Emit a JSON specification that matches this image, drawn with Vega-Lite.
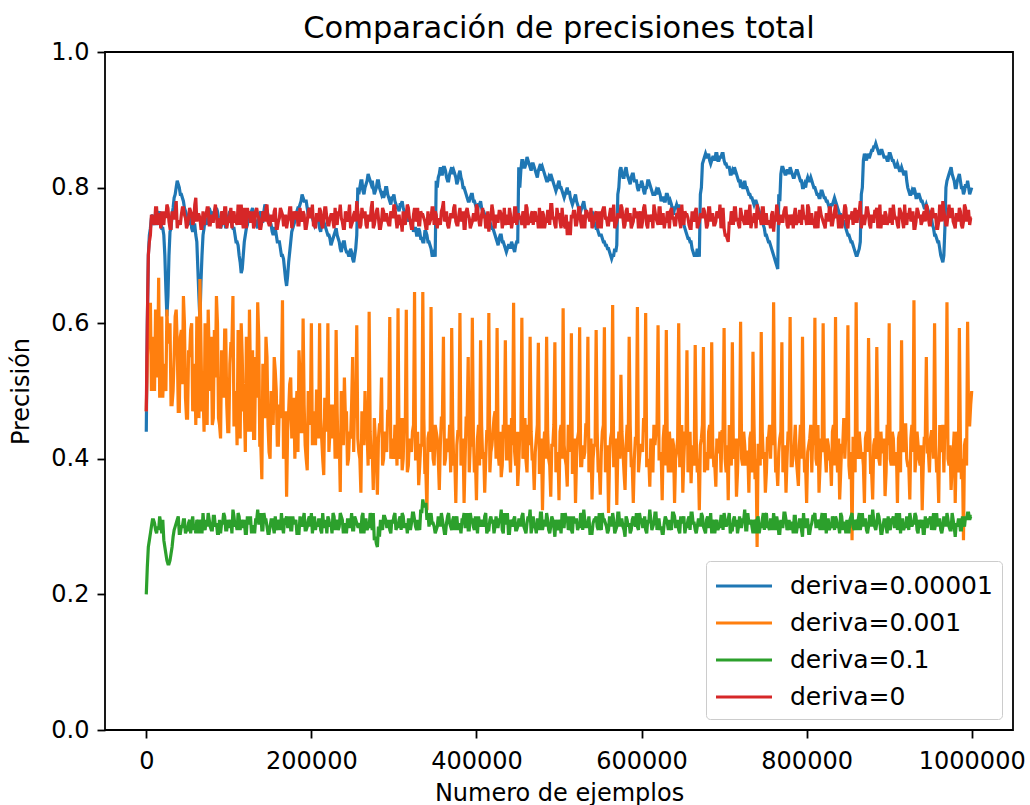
{
  "$schema": "https://vega.github.io/schema/vega-lite/v6.json",
  "width": 908,
  "height": 678,
  "autosize": {"type": "none"},
  "padding": {"left": 105, "top": 52, "right": 17, "bottom": 75},
  "background": "white",
  "config": {
    "font": "DejaVu Sans",
    "view": {"stroke": "black", "strokeWidth": 1.8}
  },
  "title": {
    "text": "Comparación de precisiones total",
    "font": "DejaVu Sans",
    "fontSize": 30.5,
    "fontWeight": "normal",
    "color": "black",
    "anchor": "middle",
    "offset": -4
  },
  "data": {
    "values": [
      {"x": 0, "a": 0.44, "b": 0.47, "c": 0.20, "d": 0.47},
      {"x": 5000, "a": 0.74, "b": 0.63, "c": 0.29, "d": 0.73},
      {"x": 10000, "a": 0.75, "b": 0.50, "c": 0.305, "d": 0.745},
      {"x": 15000, "a": 0.76, "b": 0.667, "c": 0.295, "d": 0.76},
      {"x": 20000, "a": 0.74, "b": 0.49, "c": 0.31, "d": 0.75},
      {"x": 25000, "a": 0.61, "b": 0.62, "c": 0.25, "d": 0.775},
      {"x": 30000, "a": 0.74, "b": 0.48, "c": 0.26, "d": 0.74},
      {"x": 35000, "a": 0.79, "b": 0.61, "c": 0.30, "d": 0.765},
      {"x": 40000, "a": 0.80, "b": 0.47, "c": 0.29, "d": 0.75},
      {"x": 45000, "a": 0.78, "b": 0.64, "c": 0.31, "d": 0.77},
      {"x": 50000, "a": 0.75, "b": 0.46, "c": 0.295, "d": 0.745},
      {"x": 55000, "a": 0.74, "b": 0.60, "c": 0.305, "d": 0.76},
      {"x": 60000, "a": 0.73, "b": 0.45, "c": 0.29, "d": 0.785},
      {"x": 65000, "a": 0.605, "b": 0.665, "c": 0.31, "d": 0.755},
      {"x": 70000, "a": 0.74, "b": 0.44, "c": 0.30, "d": 0.745},
      {"x": 75000, "a": 0.76, "b": 0.62, "c": 0.32, "d": 0.77},
      {"x": 80000, "a": 0.75, "b": 0.45, "c": 0.295, "d": 0.75},
      {"x": 85000, "a": 0.77, "b": 0.64, "c": 0.305, "d": 0.76},
      {"x": 90000, "a": 0.74, "b": 0.43, "c": 0.29, "d": 0.74},
      {"x": 95000, "a": 0.75, "b": 0.59, "c": 0.315, "d": 0.77},
      {"x": 100000, "a": 0.76, "b": 0.44, "c": 0.30, "d": 0.75},
      {"x": 105000, "a": 0.74, "b": 0.64, "c": 0.325, "d": 0.76},
      {"x": 110000, "a": 0.72, "b": 0.42, "c": 0.295, "d": 0.745},
      {"x": 115000, "a": 0.674, "b": 0.60, "c": 0.31, "d": 0.775},
      {"x": 120000, "a": 0.73, "b": 0.41, "c": 0.29, "d": 0.75},
      {"x": 125000, "a": 0.75, "b": 0.62, "c": 0.305, "d": 0.765},
      {"x": 130000, "a": 0.76, "b": 0.43, "c": 0.30, "d": 0.74},
      {"x": 135000, "a": 0.74, "b": 0.631, "c": 0.325, "d": 0.76},
      {"x": 140000, "a": 0.75, "b": 0.37, "c": 0.295, "d": 0.75},
      {"x": 145000, "a": 0.77, "b": 0.58, "c": 0.31, "d": 0.77},
      {"x": 150000, "a": 0.75, "b": 0.40, "c": 0.30, "d": 0.745},
      {"x": 155000, "a": 0.74, "b": 0.55, "c": 0.29, "d": 0.765},
      {"x": 160000, "a": 0.72, "b": 0.42, "c": 0.31, "d": 0.75},
      {"x": 165000, "a": 0.70, "b": 0.634, "c": 0.30, "d": 0.76},
      {"x": 170000, "a": 0.655, "b": 0.344, "c": 0.315, "d": 0.74},
      {"x": 175000, "a": 0.72, "b": 0.52, "c": 0.295, "d": 0.77},
      {"x": 180000, "a": 0.75, "b": 0.40, "c": 0.305, "d": 0.755},
      {"x": 185000, "a": 0.77, "b": 0.56, "c": 0.29, "d": 0.745},
      {"x": 190000, "a": 0.785, "b": 0.607, "c": 0.31, "d": 0.765},
      {"x": 195000, "a": 0.77, "b": 0.383, "c": 0.30, "d": 0.75},
      {"x": 200000, "a": 0.76, "b": 0.60, "c": 0.32, "d": 0.76},
      {"x": 205000, "a": 0.75, "b": 0.42, "c": 0.295, "d": 0.74},
      {"x": 210000, "a": 0.74, "b": 0.60, "c": 0.31, "d": 0.77},
      {"x": 215000, "a": 0.75, "b": 0.376, "c": 0.30, "d": 0.755},
      {"x": 220000, "a": 0.73, "b": 0.60, "c": 0.315, "d": 0.745},
      {"x": 225000, "a": 0.72, "b": 0.43, "c": 0.29, "d": 0.76},
      {"x": 230000, "a": 0.74, "b": 0.59, "c": 0.305, "d": 0.75},
      {"x": 235000, "a": 0.71, "b": 0.351, "c": 0.32, "d": 0.775},
      {"x": 240000, "a": 0.72, "b": 0.52, "c": 0.30, "d": 0.74},
      {"x": 245000, "a": 0.70, "b": 0.40, "c": 0.31, "d": 0.76},
      {"x": 250000, "a": 0.695, "b": 0.55, "c": 0.295, "d": 0.75},
      {"x": 255000, "a": 0.73, "b": 0.597, "c": 0.305, "d": 0.78},
      {"x": 260000, "a": 0.81, "b": 0.35, "c": 0.29, "d": 0.745},
      {"x": 265000, "a": 0.80, "b": 0.50, "c": 0.31, "d": 0.765},
      {"x": 270000, "a": 0.815, "b": 0.617, "c": 0.30, "d": 0.755},
      {"x": 275000, "a": 0.80, "b": 0.354, "c": 0.32, "d": 0.74},
      {"x": 280000, "a": 0.81, "b": 0.347, "c": 0.27, "d": 0.77},
      {"x": 285000, "a": 0.79, "b": 0.52, "c": 0.30, "d": 0.75},
      {"x": 290000, "a": 0.80, "b": 0.42, "c": 0.31, "d": 0.76},
      {"x": 295000, "a": 0.78, "b": 0.609, "c": 0.295, "d": 0.745},
      {"x": 300000, "a": 0.79, "b": 0.40, "c": 0.315, "d": 0.775},
      {"x": 305000, "a": 0.77, "b": 0.622, "c": 0.30, "d": 0.75},
      {"x": 310000, "a": 0.78, "b": 0.383, "c": 0.32, "d": 0.735},
      {"x": 315000, "a": 0.76, "b": 0.62, "c": 0.305, "d": 0.76},
      {"x": 320000, "a": 0.75, "b": 0.42, "c": 0.295, "d": 0.75},
      {"x": 325000, "a": 0.74, "b": 0.646, "c": 0.31, "d": 0.77},
      {"x": 330000, "a": 0.74, "b": 0.361, "c": 0.30, "d": 0.745},
      {"x": 335000, "a": 0.72, "b": 0.646, "c": 0.34, "d": 0.76},
      {"x": 340000, "a": 0.73, "b": 0.324, "c": 0.31, "d": 0.74},
      {"x": 345000, "a": 0.71, "b": 0.624, "c": 0.32, "d": 0.755},
      {"x": 350000, "a": 0.698, "b": 0.45, "c": 0.29, "d": 0.765},
      {"x": 355000, "a": 0.82, "b": 0.354, "c": 0.31, "d": 0.75},
      {"x": 360000, "a": 0.83, "b": 0.58, "c": 0.30, "d": 0.78},
      {"x": 365000, "a": 0.81, "b": 0.42, "c": 0.315, "d": 0.745},
      {"x": 370000, "a": 0.83, "b": 0.593, "c": 0.295, "d": 0.76},
      {"x": 375000, "a": 0.815, "b": 0.335, "c": 0.31, "d": 0.75},
      {"x": 380000, "a": 0.825, "b": 0.615, "c": 0.30, "d": 0.77},
      {"x": 385000, "a": 0.80, "b": 0.335, "c": 0.32, "d": 0.74},
      {"x": 390000, "a": 0.78, "b": 0.55, "c": 0.295, "d": 0.76},
      {"x": 395000, "a": 0.79, "b": 0.608, "c": 0.31, "d": 0.75},
      {"x": 400000, "a": 0.77, "b": 0.339, "c": 0.305, "d": 0.775},
      {"x": 405000, "a": 0.78, "b": 0.575, "c": 0.30, "d": 0.745},
      {"x": 410000, "a": 0.76, "b": 0.35, "c": 0.315, "d": 0.76},
      {"x": 415000, "a": 0.75, "b": 0.615, "c": 0.295, "d": 0.735},
      {"x": 420000, "a": 0.74, "b": 0.44, "c": 0.31, "d": 0.765},
      {"x": 425000, "a": 0.72, "b": 0.593, "c": 0.30, "d": 0.75},
      {"x": 430000, "a": 0.73, "b": 0.373, "c": 0.325, "d": 0.76},
      {"x": 435000, "a": 0.71, "b": 0.575, "c": 0.305, "d": 0.745},
      {"x": 440000, "a": 0.715, "b": 0.42, "c": 0.29, "d": 0.77},
      {"x": 445000, "a": 0.71, "b": 0.63, "c": 0.31, "d": 0.75},
      {"x": 450000, "a": 0.72, "b": 0.36, "c": 0.30, "d": 0.76},
      {"x": 455000, "a": 0.84, "b": 0.608, "c": 0.315, "d": 0.745},
      {"x": 460000, "a": 0.835, "b": 0.398, "c": 0.29, "d": 0.775},
      {"x": 465000, "a": 0.83, "b": 0.58, "c": 0.325, "d": 0.75},
      {"x": 470000, "a": 0.83, "b": 0.354, "c": 0.30, "d": 0.76},
      {"x": 475000, "a": 0.825, "b": 0.571, "c": 0.31, "d": 0.74},
      {"x": 480000, "a": 0.83, "b": 0.324, "c": 0.295, "d": 0.765},
      {"x": 485000, "a": 0.81, "b": 0.58, "c": 0.32, "d": 0.75},
      {"x": 490000, "a": 0.82, "b": 0.344, "c": 0.30, "d": 0.775},
      {"x": 495000, "a": 0.80, "b": 0.572, "c": 0.285, "d": 0.745},
      {"x": 500000, "a": 0.81, "b": 0.339, "c": 0.31, "d": 0.76},
      {"x": 505000, "a": 0.79, "b": 0.622, "c": 0.30, "d": 0.75},
      {"x": 510000, "a": 0.80, "b": 0.359, "c": 0.315, "d": 0.73},
      {"x": 515000, "a": 0.78, "b": 0.585, "c": 0.295, "d": 0.76},
      {"x": 520000, "a": 0.79, "b": 0.335, "c": 0.31, "d": 0.745},
      {"x": 525000, "a": 0.77, "b": 0.594, "c": 0.30, "d": 0.77},
      {"x": 530000, "a": 0.78, "b": 0.40, "c": 0.325, "d": 0.75},
      {"x": 535000, "a": 0.76, "b": 0.58, "c": 0.305, "d": 0.76},
      {"x": 540000, "a": 0.765, "b": 0.34, "c": 0.29, "d": 0.74},
      {"x": 545000, "a": 0.74, "b": 0.59, "c": 0.315, "d": 0.765},
      {"x": 550000, "a": 0.73, "b": 0.347, "c": 0.30, "d": 0.75},
      {"x": 555000, "a": 0.72, "b": 0.594, "c": 0.31, "d": 0.77},
      {"x": 560000, "a": 0.71, "b": 0.32, "c": 0.295, "d": 0.745},
      {"x": 565000, "a": 0.70, "b": 0.627, "c": 0.32, "d": 0.76},
      {"x": 570000, "a": 0.715, "b": 0.332, "c": 0.30, "d": 0.75},
      {"x": 575000, "a": 0.83, "b": 0.524, "c": 0.31, "d": 0.775},
      {"x": 580000, "a": 0.825, "b": 0.354, "c": 0.285, "d": 0.745},
      {"x": 585000, "a": 0.81, "b": 0.58, "c": 0.305, "d": 0.76},
      {"x": 590000, "a": 0.82, "b": 0.335, "c": 0.315, "d": 0.75},
      {"x": 595000, "a": 0.80, "b": 0.624, "c": 0.30, "d": 0.765},
      {"x": 600000, "a": 0.81, "b": 0.42, "c": 0.31, "d": 0.74},
      {"x": 605000, "a": 0.80, "b": 0.615, "c": 0.295, "d": 0.76},
      {"x": 610000, "a": 0.805, "b": 0.359, "c": 0.325, "d": 0.75},
      {"x": 615000, "a": 0.79, "b": 0.45, "c": 0.305, "d": 0.775},
      {"x": 620000, "a": 0.80, "b": 0.597, "c": 0.31, "d": 0.745},
      {"x": 625000, "a": 0.785, "b": 0.339, "c": 0.29, "d": 0.76},
      {"x": 630000, "a": 0.79, "b": 0.59, "c": 0.31, "d": 0.75},
      {"x": 635000, "a": 0.78, "b": 0.41, "c": 0.30, "d": 0.765},
      {"x": 640000, "a": 0.77, "b": 0.335, "c": 0.315, "d": 0.745},
      {"x": 645000, "a": 0.775, "b": 0.60, "c": 0.295, "d": 0.77},
      {"x": 650000, "a": 0.75, "b": 0.35, "c": 0.31, "d": 0.75},
      {"x": 655000, "a": 0.73, "b": 0.56, "c": 0.30, "d": 0.76},
      {"x": 660000, "a": 0.72, "b": 0.364, "c": 0.32, "d": 0.74},
      {"x": 665000, "a": 0.70, "b": 0.568, "c": 0.295, "d": 0.765},
      {"x": 670000, "a": 0.698, "b": 0.324, "c": 0.31, "d": 0.75},
      {"x": 675000, "a": 0.84, "b": 0.565, "c": 0.30, "d": 0.77},
      {"x": 680000, "a": 0.845, "b": 0.383, "c": 0.315, "d": 0.745},
      {"x": 685000, "a": 0.84, "b": 0.572, "c": 0.29, "d": 0.76},
      {"x": 690000, "a": 0.85, "b": 0.359, "c": 0.305, "d": 0.75},
      {"x": 695000, "a": 0.845, "b": 0.44, "c": 0.30, "d": 0.775},
      {"x": 700000, "a": 0.84, "b": 0.593, "c": 0.32, "d": 0.74},
      {"x": 705000, "a": 0.83, "b": 0.339, "c": 0.31, "d": 0.72},
      {"x": 710000, "a": 0.825, "b": 0.572, "c": 0.295, "d": 0.76},
      {"x": 715000, "a": 0.82, "b": 0.344, "c": 0.31, "d": 0.75},
      {"x": 720000, "a": 0.80, "b": 0.602, "c": 0.30, "d": 0.77},
      {"x": 725000, "a": 0.81, "b": 0.42, "c": 0.325, "d": 0.745},
      {"x": 730000, "a": 0.79, "b": 0.35, "c": 0.305, "d": 0.76},
      {"x": 735000, "a": 0.78, "b": 0.558, "c": 0.29, "d": 0.75},
      {"x": 740000, "a": 0.775, "b": 0.27, "c": 0.31, "d": 0.775},
      {"x": 745000, "a": 0.76, "b": 0.587, "c": 0.30, "d": 0.745},
      {"x": 750000, "a": 0.73, "b": 0.35, "c": 0.315, "d": 0.76},
      {"x": 755000, "a": 0.72, "b": 0.45, "c": 0.295, "d": 0.75},
      {"x": 760000, "a": 0.70, "b": 0.631, "c": 0.32, "d": 0.735},
      {"x": 765000, "a": 0.68, "b": 0.36, "c": 0.305, "d": 0.765},
      {"x": 770000, "a": 0.83, "b": 0.572, "c": 0.30, "d": 0.75},
      {"x": 775000, "a": 0.82, "b": 0.35, "c": 0.31, "d": 0.77},
      {"x": 780000, "a": 0.83, "b": 0.609, "c": 0.295, "d": 0.745},
      {"x": 785000, "a": 0.815, "b": 0.42, "c": 0.315, "d": 0.76},
      {"x": 790000, "a": 0.82, "b": 0.36, "c": 0.30, "d": 0.75},
      {"x": 795000, "a": 0.80, "b": 0.58, "c": 0.285, "d": 0.775},
      {"x": 800000, "a": 0.81, "b": 0.335, "c": 0.31, "d": 0.745},
      {"x": 805000, "a": 0.815, "b": 0.45, "c": 0.30, "d": 0.76},
      {"x": 810000, "a": 0.80, "b": 0.608, "c": 0.32, "d": 0.74},
      {"x": 815000, "a": 0.785, "b": 0.35, "c": 0.305, "d": 0.77},
      {"x": 820000, "a": 0.79, "b": 0.60, "c": 0.295, "d": 0.75},
      {"x": 825000, "a": 0.78, "b": 0.43, "c": 0.31, "d": 0.76},
      {"x": 830000, "a": 0.775, "b": 0.36, "c": 0.30, "d": 0.745},
      {"x": 835000, "a": 0.78, "b": 0.609, "c": 0.315, "d": 0.775},
      {"x": 840000, "a": 0.76, "b": 0.34, "c": 0.29, "d": 0.75},
      {"x": 845000, "a": 0.75, "b": 0.46, "c": 0.305, "d": 0.76},
      {"x": 850000, "a": 0.73, "b": 0.597, "c": 0.30, "d": 0.74},
      {"x": 855000, "a": 0.72, "b": 0.28, "c": 0.32, "d": 0.765},
      {"x": 860000, "a": 0.70, "b": 0.631, "c": 0.305, "d": 0.75},
      {"x": 865000, "a": 0.72, "b": 0.42, "c": 0.295, "d": 0.78},
      {"x": 870000, "a": 0.85, "b": 0.335, "c": 0.31, "d": 0.745},
      {"x": 875000, "a": 0.845, "b": 0.578, "c": 0.30, "d": 0.76},
      {"x": 880000, "a": 0.855, "b": 0.34, "c": 0.325, "d": 0.75},
      {"x": 885000, "a": 0.86, "b": 0.565, "c": 0.305, "d": 0.77},
      {"x": 890000, "a": 0.855, "b": 0.44, "c": 0.29, "d": 0.74},
      {"x": 895000, "a": 0.845, "b": 0.345, "c": 0.31, "d": 0.765},
      {"x": 900000, "a": 0.85, "b": 0.60, "c": 0.30, "d": 0.75},
      {"x": 905000, "a": 0.84, "b": 0.43, "c": 0.315, "d": 0.775},
      {"x": 910000, "a": 0.835, "b": 0.335, "c": 0.295, "d": 0.745},
      {"x": 915000, "a": 0.83, "b": 0.575, "c": 0.31, "d": 0.76},
      {"x": 920000, "a": 0.825, "b": 0.45, "c": 0.30, "d": 0.75},
      {"x": 925000, "a": 0.79, "b": 0.34, "c": 0.32, "d": 0.77},
      {"x": 930000, "a": 0.80, "b": 0.634, "c": 0.305, "d": 0.74},
      {"x": 935000, "a": 0.79, "b": 0.42, "c": 0.29, "d": 0.765},
      {"x": 940000, "a": 0.78, "b": 0.324, "c": 0.31, "d": 0.75},
      {"x": 945000, "a": 0.775, "b": 0.55, "c": 0.30, "d": 0.775},
      {"x": 950000, "a": 0.76, "b": 0.43, "c": 0.315, "d": 0.745},
      {"x": 955000, "a": 0.73, "b": 0.60, "c": 0.295, "d": 0.76},
      {"x": 960000, "a": 0.72, "b": 0.335, "c": 0.31, "d": 0.75},
      {"x": 965000, "a": 0.69, "b": 0.45, "c": 0.30, "d": 0.78},
      {"x": 970000, "a": 0.81, "b": 0.631, "c": 0.32, "d": 0.745},
      {"x": 975000, "a": 0.83, "b": 0.354, "c": 0.295, "d": 0.765},
      {"x": 980000, "a": 0.80, "b": 0.335, "c": 0.285, "d": 0.74},
      {"x": 985000, "a": 0.82, "b": 0.593, "c": 0.31, "d": 0.77},
      {"x": 990000, "a": 0.79, "b": 0.28, "c": 0.305, "d": 0.75},
      {"x": 995000, "a": 0.81, "b": 0.602, "c": 0.32, "d": 0.765},
      {"x": 1000000, "a": 0.80, "b": 0.50, "c": 0.315, "d": 0.755},
      {"x": 2500, "a": 0.70, "b": 0.58, "c": 0.27, "d": 0.70},
      {"x": 7500, "a": 0.76, "b": 0.52, "c": 0.31, "d": 0.755},
      {"x": 12500, "a": 0.745, "b": 0.60, "c": 0.29, "d": 0.77},
      {"x": 17500, "a": 0.75, "b": 0.55, "c": 0.305, "d": 0.74},
      {"x": 22500, "a": 0.70, "b": 0.51, "c": 0.27, "d": 0.765},
      {"x": 27500, "a": 0.70, "b": 0.58, "c": 0.245, "d": 0.75},
      {"x": 32500, "a": 0.77, "b": 0.50, "c": 0.285, "d": 0.755},
      {"x": 37500, "a": 0.81, "b": 0.57, "c": 0.31, "d": 0.74},
      {"x": 42500, "a": 0.79, "b": 0.59, "c": 0.30, "d": 0.76},
      {"x": 47500, "a": 0.765, "b": 0.49, "c": 0.29, "d": 0.755},
      {"x": 52500, "a": 0.755, "b": 0.55, "c": 0.31, "d": 0.77},
      {"x": 57500, "a": 0.745, "b": 0.48, "c": 0.295, "d": 0.75},
      {"x": 62500, "a": 0.68, "b": 0.58, "c": 0.305, "d": 0.76},
      {"x": 67500, "a": 0.70, "b": 0.47, "c": 0.29, "d": 0.74},
      {"x": 72500, "a": 0.75, "b": 0.56, "c": 0.31, "d": 0.76},
      {"x": 77500, "a": 0.765, "b": 0.50, "c": 0.30, "d": 0.745},
      {"x": 82500, "a": 0.76, "b": 0.59, "c": 0.315, "d": 0.765},
      {"x": 87500, "a": 0.755, "b": 0.46, "c": 0.29, "d": 0.75},
      {"x": 92500, "a": 0.76, "b": 0.55, "c": 0.305, "d": 0.76},
      {"x": 97500, "a": 0.745, "b": 0.48, "c": 0.295, "d": 0.74},
      {"x": 102500, "a": 0.75, "b": 0.57, "c": 0.31, "d": 0.77},
      {"x": 107500, "a": 0.73, "b": 0.45, "c": 0.30, "d": 0.75},
      {"x": 112500, "a": 0.70, "b": 0.54, "c": 0.315, "d": 0.76},
      {"x": 117500, "a": 0.70, "b": 0.47, "c": 0.30, "d": 0.74},
      {"x": 122500, "a": 0.745, "b": 0.56, "c": 0.315, "d": 0.77},
      {"x": 127500, "a": 0.765, "b": 0.44, "c": 0.29, "d": 0.75},
      {"x": 132500, "a": 0.75, "b": 0.55, "c": 0.31, "d": 0.765},
      {"x": 137500, "a": 0.76, "b": 0.42, "c": 0.305, "d": 0.74},
      {"x": 142500, "a": 0.765, "b": 0.50, "c": 0.32, "d": 0.76},
      {"x": 147500, "a": 0.76, "b": 0.45, "c": 0.29, "d": 0.75},
      {"x": 152500, "a": 0.735, "b": 0.48, "c": 0.31, "d": 0.755},
      {"x": 157500, "a": 0.73, "b": 0.50, "c": 0.30, "d": 0.74},
      {"x": 162500, "a": 0.71, "b": 0.46, "c": 0.295, "d": 0.77},
      {"x": 167500, "a": 0.68, "b": 0.42, "c": 0.31, "d": 0.745},
      {"x": 172500, "a": 0.69, "b": 0.47, "c": 0.30, "d": 0.755},
      {"x": 177500, "a": 0.74, "b": 0.45, "c": 0.315, "d": 0.75},
      {"x": 182500, "a": 0.765, "b": 0.50, "c": 0.29, "d": 0.765},
      {"x": 187500, "a": 0.78, "b": 0.44, "c": 0.305, "d": 0.755},
      {"x": 192500, "a": 0.78, "b": 0.42, "c": 0.295, "d": 0.74},
      {"x": 197500, "a": 0.765, "b": 0.47, "c": 0.315, "d": 0.77},
      {"x": 202500, "a": 0.75, "b": 0.45, "c": 0.305, "d": 0.745},
      {"x": 207500, "a": 0.76, "b": 0.50, "c": 0.30, "d": 0.76},
      {"x": 212500, "a": 0.745, "b": 0.43, "c": 0.29, "d": 0.745},
      {"x": 217500, "a": 0.74, "b": 0.46, "c": 0.31, "d": 0.77},
      {"x": 222500, "a": 0.725, "b": 0.44, "c": 0.30, "d": 0.755},
      {"x": 227500, "a": 0.73, "b": 0.48, "c": 0.315, "d": 0.74},
      {"x": 232500, "a": 0.725, "b": 0.40, "c": 0.295, "d": 0.765},
      {"x": 237500, "a": 0.715, "b": 0.45, "c": 0.31, "d": 0.75},
      {"x": 242500, "a": 0.705, "b": 0.47, "c": 0.29, "d": 0.755},
      {"x": 247500, "a": 0.71, "b": 0.43, "c": 0.30, "d": 0.74},
      {"x": 252500, "a": 0.70, "b": 0.49, "c": 0.315, "d": 0.765},
      {"x": 257500, "a": 0.79, "b": 0.41, "c": 0.30, "d": 0.755},
      {"x": 262500, "a": 0.795, "b": 0.46, "c": 0.32, "d": 0.76},
      {"x": 267500, "a": 0.81, "b": 0.44, "c": 0.295, "d": 0.74},
      {"x": 272500, "a": 0.805, "b": 0.40, "c": 0.31, "d": 0.77},
      {"x": 277500, "a": 0.795, "b": 0.43, "c": 0.285, "d": 0.755},
      {"x": 282500, "a": 0.80, "b": 0.45, "c": 0.285, "d": 0.74},
      {"x": 287500, "a": 0.785, "b": 0.40, "c": 0.315, "d": 0.765},
      {"x": 292500, "a": 0.79, "b": 0.47, "c": 0.30, "d": 0.75},
      {"x": 297500, "a": 0.785, "b": 0.41, "c": 0.31, "d": 0.76},
      {"x": 302500, "a": 0.775, "b": 0.44, "c": 0.295, "d": 0.755},
      {"x": 307500, "a": 0.775, "b": 0.40, "c": 0.315, "d": 0.745},
      {"x": 312500, "a": 0.765, "b": 0.46, "c": 0.30, "d": 0.75},
      {"x": 317500, "a": 0.755, "b": 0.39, "c": 0.31, "d": 0.77},
      {"x": 322500, "a": 0.745, "b": 0.44, "c": 0.32, "d": 0.74},
      {"x": 327500, "a": 0.73, "b": 0.40, "c": 0.295, "d": 0.755},
      {"x": 332500, "a": 0.725, "b": 0.42, "c": 0.325, "d": 0.765},
      {"x": 337500, "a": 0.735, "b": 0.38, "c": 0.33, "d": 0.75},
      {"x": 342500, "a": 0.72, "b": 0.44, "c": 0.30, "d": 0.745},
      {"x": 347500, "a": 0.70, "b": 0.40, "c": 0.305, "d": 0.77},
      {"x": 352500, "a": 0.80, "b": 0.43, "c": 0.30, "d": 0.74},
      {"x": 357500, "a": 0.82, "b": 0.46, "c": 0.32, "d": 0.765},
      {"x": 362500, "a": 0.825, "b": 0.40, "c": 0.29, "d": 0.755},
      {"x": 367500, "a": 0.82, "b": 0.45, "c": 0.305, "d": 0.75},
      {"x": 372500, "a": 0.825, "b": 0.39, "c": 0.315, "d": 0.77},
      {"x": 377500, "a": 0.81, "b": 0.44, "c": 0.295, "d": 0.745},
      {"x": 382500, "a": 0.81, "b": 0.40, "c": 0.31, "d": 0.755},
      {"x": 387500, "a": 0.79, "b": 0.46, "c": 0.30, "d": 0.765},
      {"x": 392500, "a": 0.785, "b": 0.42, "c": 0.32, "d": 0.74},
      {"x": 397500, "a": 0.78, "b": 0.38, "c": 0.295, "d": 0.76},
      {"x": 402500, "a": 0.775, "b": 0.45, "c": 0.315, "d": 0.755},
      {"x": 407500, "a": 0.765, "b": 0.40, "c": 0.305, "d": 0.77},
      {"x": 412500, "a": 0.755, "b": 0.44, "c": 0.29, "d": 0.745},
      {"x": 417500, "a": 0.745, "b": 0.41, "c": 0.315, "d": 0.755},
      {"x": 422500, "a": 0.73, "b": 0.47, "c": 0.30, "d": 0.74},
      {"x": 427500, "a": 0.725, "b": 0.39, "c": 0.31, "d": 0.765},
      {"x": 432500, "a": 0.72, "b": 0.45, "c": 0.29, "d": 0.75},
      {"x": 437500, "a": 0.71, "b": 0.40, "c": 0.32, "d": 0.76},
      {"x": 442500, "a": 0.72, "b": 0.46, "c": 0.305, "d": 0.74},
      {"x": 447500, "a": 0.715, "b": 0.39, "c": 0.295, "d": 0.77},
      {"x": 452500, "a": 0.80, "b": 0.44, "c": 0.31, "d": 0.755},
      {"x": 457500, "a": 0.83, "b": 0.42, "c": 0.30, "d": 0.76},
      {"x": 462500, "a": 0.84, "b": 0.45, "c": 0.315, "d": 0.745},
      {"x": 467500, "a": 0.835, "b": 0.40, "c": 0.30, "d": 0.765},
      {"x": 472500, "a": 0.82, "b": 0.43, "c": 0.29, "d": 0.75},
      {"x": 477500, "a": 0.835, "b": 0.38, "c": 0.32, "d": 0.755},
      {"x": 482500, "a": 0.82, "b": 0.44, "c": 0.31, "d": 0.74},
      {"x": 487500, "a": 0.815, "b": 0.40, "c": 0.295, "d": 0.765},
      {"x": 492500, "a": 0.81, "b": 0.42, "c": 0.31, "d": 0.755},
      {"x": 497500, "a": 0.80, "b": 0.39, "c": 0.30, "d": 0.77},
      {"x": 502500, "a": 0.80, "b": 0.45, "c": 0.29, "d": 0.74},
      {"x": 507500, "a": 0.79, "b": 0.40, "c": 0.32, "d": 0.74},
      {"x": 512500, "a": 0.795, "b": 0.44, "c": 0.30, "d": 0.75},
      {"x": 517500, "a": 0.78, "b": 0.38, "c": 0.315, "d": 0.765},
      {"x": 522500, "a": 0.775, "b": 0.43, "c": 0.295, "d": 0.755},
      {"x": 527500, "a": 0.77, "b": 0.39, "c": 0.315, "d": 0.74},
      {"x": 532500, "a": 0.765, "b": 0.45, "c": 0.30, "d": 0.765},
      {"x": 537500, "a": 0.755, "b": 0.40, "c": 0.29, "d": 0.75},
      {"x": 542500, "a": 0.75, "b": 0.42, "c": 0.31, "d": 0.755},
      {"x": 547500, "a": 0.735, "b": 0.38, "c": 0.295, "d": 0.74},
      {"x": 552500, "a": 0.725, "b": 0.44, "c": 0.32, "d": 0.765},
      {"x": 557500, "a": 0.715, "b": 0.40, "c": 0.30, "d": 0.755},
      {"x": 562500, "a": 0.70, "b": 0.43, "c": 0.31, "d": 0.77},
      {"x": 567500, "a": 0.71, "b": 0.39, "c": 0.29, "d": 0.74},
      {"x": 572500, "a": 0.80, "b": 0.44, "c": 0.32, "d": 0.76},
      {"x": 577500, "a": 0.815, "b": 0.41, "c": 0.30, "d": 0.755},
      {"x": 582500, "a": 0.82, "b": 0.45, "c": 0.31, "d": 0.77},
      {"x": 587500, "a": 0.815, "b": 0.39, "c": 0.295, "d": 0.74},
      {"x": 592500, "a": 0.81, "b": 0.43, "c": 0.30, "d": 0.76},
      {"x": 597500, "a": 0.805, "b": 0.40, "c": 0.32, "d": 0.755},
      {"x": 602500, "a": 0.795, "b": 0.46, "c": 0.30, "d": 0.77},
      {"x": 607500, "a": 0.81, "b": 0.39, "c": 0.31, "d": 0.74},
      {"x": 612500, "a": 0.795, "b": 0.42, "c": 0.295, "d": 0.76},
      {"x": 617500, "a": 0.795, "b": 0.44, "c": 0.32, "d": 0.755},
      {"x": 622500, "a": 0.79, "b": 0.40, "c": 0.295, "d": 0.77},
      {"x": 627500, "a": 0.78, "b": 0.45, "c": 0.305, "d": 0.74},
      {"x": 632500, "a": 0.785, "b": 0.38, "c": 0.295, "d": 0.76},
      {"x": 637500, "a": 0.765, "b": 0.43, "c": 0.32, "d": 0.755},
      {"x": 642500, "a": 0.775, "b": 0.41, "c": 0.30, "d": 0.76},
      {"x": 647500, "a": 0.76, "b": 0.39, "c": 0.315, "d": 0.74},
      {"x": 652500, "a": 0.74, "b": 0.44, "c": 0.29, "d": 0.765},
      {"x": 657500, "a": 0.725, "b": 0.40, "c": 0.315, "d": 0.745},
      {"x": 662500, "a": 0.705, "b": 0.42, "c": 0.305, "d": 0.755},
      {"x": 667500, "a": 0.71, "b": 0.38, "c": 0.30, "d": 0.74},
      {"x": 672500, "a": 0.80, "b": 0.43, "c": 0.32, "d": 0.76},
      {"x": 677500, "a": 0.85, "b": 0.40, "c": 0.29, "d": 0.755},
      {"x": 682500, "a": 0.84, "b": 0.45, "c": 0.30, "d": 0.77},
      {"x": 687500, "a": 0.845, "b": 0.39, "c": 0.31, "d": 0.745},
      {"x": 692500, "a": 0.84, "b": 0.41, "c": 0.295, "d": 0.76},
      {"x": 697500, "a": 0.85, "b": 0.44, "c": 0.315, "d": 0.755},
      {"x": 702500, "a": 0.835, "b": 0.38, "c": 0.30, "d": 0.73},
      {"x": 707500, "a": 0.82, "b": 0.42, "c": 0.29, "d": 0.745},
      {"x": 712500, "a": 0.83, "b": 0.40, "c": 0.315, "d": 0.77},
      {"x": 717500, "a": 0.81, "b": 0.43, "c": 0.30, "d": 0.745},
      {"x": 722500, "a": 0.80, "b": 0.39, "c": 0.31, "d": 0.755},
      {"x": 727500, "a": 0.80, "b": 0.41, "c": 0.295, "d": 0.765},
      {"x": 732500, "a": 0.785, "b": 0.44, "c": 0.31, "d": 0.74},
      {"x": 737500, "a": 0.78, "b": 0.37, "c": 0.305, "d": 0.76},
      {"x": 742500, "a": 0.765, "b": 0.42, "c": 0.29, "d": 0.755},
      {"x": 747500, "a": 0.745, "b": 0.40, "c": 0.32, "d": 0.77},
      {"x": 752500, "a": 0.725, "b": 0.43, "c": 0.30, "d": 0.745},
      {"x": 757500, "a": 0.71, "b": 0.45, "c": 0.31, "d": 0.76},
      {"x": 762500, "a": 0.69, "b": 0.38, "c": 0.295, "d": 0.75},
      {"x": 767500, "a": 0.78, "b": 0.43, "c": 0.29, "d": 0.755},
      {"x": 772500, "a": 0.825, "b": 0.40, "c": 0.32, "d": 0.765},
      {"x": 777500, "a": 0.825, "b": 0.44, "c": 0.30, "d": 0.74},
      {"x": 782500, "a": 0.82, "b": 0.39, "c": 0.305, "d": 0.76},
      {"x": 787500, "a": 0.825, "b": 0.40, "c": 0.29, "d": 0.745},
      {"x": 792500, "a": 0.81, "b": 0.45, "c": 0.31, "d": 0.765},
      {"x": 797500, "a": 0.805, "b": 0.38, "c": 0.30, "d": 0.755},
      {"x": 802500, "a": 0.81, "b": 0.42, "c": 0.29, "d": 0.77},
      {"x": 807500, "a": 0.805, "b": 0.44, "c": 0.315, "d": 0.745},
      {"x": 812500, "a": 0.79, "b": 0.39, "c": 0.30, "d": 0.755},
      {"x": 817500, "a": 0.795, "b": 0.43, "c": 0.31, "d": 0.76},
      {"x": 822500, "a": 0.785, "b": 0.41, "c": 0.32, "d": 0.74},
      {"x": 827500, "a": 0.77, "b": 0.40, "c": 0.295, "d": 0.77},
      {"x": 832500, "a": 0.78, "b": 0.45, "c": 0.31, "d": 0.755},
      {"x": 837500, "a": 0.77, "b": 0.38, "c": 0.30, "d": 0.76},
      {"x": 842500, "a": 0.755, "b": 0.42, "c": 0.315, "d": 0.74},
      {"x": 847500, "a": 0.74, "b": 0.44, "c": 0.29, "d": 0.77},
      {"x": 852500, "a": 0.725, "b": 0.37, "c": 0.31, "d": 0.755},
      {"x": 857500, "a": 0.71, "b": 0.43, "c": 0.295, "d": 0.76},
      {"x": 862500, "a": 0.705, "b": 0.40, "c": 0.31, "d": 0.765},
      {"x": 867500, "a": 0.80, "b": 0.41, "c": 0.32, "d": 0.755},
      {"x": 872500, "a": 0.84, "b": 0.44, "c": 0.295, "d": 0.77},
      {"x": 877500, "a": 0.85, "b": 0.38, "c": 0.315, "d": 0.74},
      {"x": 882500, "a": 0.86, "b": 0.43, "c": 0.30, "d": 0.765},
      {"x": 887500, "a": 0.85, "b": 0.40, "c": 0.315, "d": 0.755},
      {"x": 892500, "a": 0.85, "b": 0.41, "c": 0.30, "d": 0.76},
      {"x": 897500, "a": 0.84, "b": 0.45, "c": 0.29, "d": 0.745},
      {"x": 902500, "a": 0.845, "b": 0.39, "c": 0.31, "d": 0.765},
      {"x": 907500, "a": 0.83, "b": 0.40, "c": 0.30, "d": 0.755},
      {"x": 912500, "a": 0.825, "b": 0.44, "c": 0.32, "d": 0.77},
      {"x": 917500, "a": 0.82, "b": 0.41, "c": 0.295, "d": 0.74},
      {"x": 922500, "a": 0.80, "b": 0.39, "c": 0.31, "d": 0.76},
      {"x": 927500, "a": 0.795, "b": 0.45, "c": 0.30, "d": 0.755},
      {"x": 932500, "a": 0.785, "b": 0.40, "c": 0.315, "d": 0.75},
      {"x": 937500, "a": 0.785, "b": 0.39, "c": 0.30, "d": 0.76},
      {"x": 942500, "a": 0.77, "b": 0.43, "c": 0.29, "d": 0.765},
      {"x": 947500, "a": 0.765, "b": 0.41, "c": 0.31, "d": 0.755},
      {"x": 952500, "a": 0.745, "b": 0.44, "c": 0.305, "d": 0.77},
      {"x": 957500, "a": 0.725, "b": 0.38, "c": 0.32, "d": 0.74},
      {"x": 962500, "a": 0.70, "b": 0.42, "c": 0.295, "d": 0.765},
      {"x": 967500, "a": 0.74, "b": 0.45, "c": 0.31, "d": 0.755},
      {"x": 972500, "a": 0.82, "b": 0.39, "c": 0.30, "d": 0.775},
      {"x": 977500, "a": 0.815, "b": 0.41, "c": 0.31, "d": 0.75},
      {"x": 982500, "a": 0.81, "b": 0.44, "c": 0.30, "d": 0.76},
      {"x": 987500, "a": 0.80, "b": 0.37, "c": 0.295, "d": 0.745},
      {"x": 992500, "a": 0.805, "b": 0.43, "c": 0.315, "d": 0.77},
      {"x": 997500, "a": 0.79, "b": 0.45, "c": 0.31, "d": 0.745},
      {"x": 1250, "a": 0.60, "b": 0.55, "c": 0.24, "d": 0.60},
      {"x": 3750, "a": 0.73, "b": 0.60, "c": 0.28, "d": 0.72},
      {"x": 6250, "a": 0.755, "b": 0.50, "c": 0.30, "d": 0.76},
      {"x": 8750, "a": 0.745, "b": 0.58, "c": 0.31, "d": 0.75},
      {"x": 11250, "a": 0.76, "b": 0.62, "c": 0.295, "d": 0.77},
      {"x": 13750, "a": 0.75, "b": 0.52, "c": 0.30, "d": 0.745},
      {"x": 16250, "a": 0.765, "b": 0.49, "c": 0.315, "d": 0.76},
      {"x": 18750, "a": 0.74, "b": 0.61, "c": 0.29, "d": 0.765},
      {"x": 21250, "a": 0.73, "b": 0.54, "c": 0.28, "d": 0.745},
      {"x": 23750, "a": 0.65, "b": 0.50, "c": 0.26, "d": 0.755},
      {"x": 26250, "a": 0.64, "b": 0.57, "c": 0.245, "d": 0.77},
      {"x": 28750, "a": 0.735, "b": 0.60, "c": 0.25, "d": 0.74},
      {"x": 31250, "a": 0.76, "b": 0.48, "c": 0.27, "d": 0.765},
      {"x": 33750, "a": 0.785, "b": 0.55, "c": 0.295, "d": 0.755},
      {"x": 36250, "a": 0.80, "b": 0.62, "c": 0.305, "d": 0.78},
      {"x": 38750, "a": 0.805, "b": 0.47, "c": 0.315, "d": 0.75},
      {"x": 41250, "a": 0.79, "b": 0.58, "c": 0.29, "d": 0.745},
      {"x": 43750, "a": 0.785, "b": 0.51, "c": 0.30, "d": 0.77},
      {"x": 46250, "a": 0.77, "b": 0.60, "c": 0.31, "d": 0.76},
      {"x": 48750, "a": 0.76, "b": 0.46, "c": 0.295, "d": 0.74},
      {"x": 51250, "a": 0.745, "b": 0.56, "c": 0.305, "d": 0.755},
      {"x": 53750, "a": 0.76, "b": 0.59, "c": 0.29, "d": 0.765},
      {"x": 56250, "a": 0.735, "b": 0.47, "c": 0.315, "d": 0.745},
      {"x": 58750, "a": 0.745, "b": 0.54, "c": 0.30, "d": 0.775},
      {"x": 61250, "a": 0.72, "b": 0.61, "c": 0.31, "d": 0.75},
      {"x": 63750, "a": 0.64, "b": 0.46, "c": 0.29, "d": 0.76},
      {"x": 66250, "a": 0.66, "b": 0.57, "c": 0.305, "d": 0.74},
      {"x": 68750, "a": 0.73, "b": 0.50, "c": 0.32, "d": 0.765},
      {"x": 71250, "a": 0.755, "b": 0.60, "c": 0.295, "d": 0.755},
      {"x": 73750, "a": 0.745, "b": 0.45, "c": 0.30, "d": 0.77},
      {"x": 76250, "a": 0.77, "b": 0.55, "c": 0.31, "d": 0.745},
      {"x": 78750, "a": 0.755, "b": 0.58, "c": 0.295, "d": 0.76},
      {"x": 81250, "a": 0.765, "b": 0.46, "c": 0.315, "d": 0.75},
      {"x": 83750, "a": 0.755, "b": 0.52, "c": 0.30, "d": 0.775},
      {"x": 86250, "a": 0.765, "b": 0.60, "c": 0.29, "d": 0.74},
      {"x": 88750, "a": 0.75, "b": 0.45, "c": 0.31, "d": 0.755},
      {"x": 91250, "a": 0.745, "b": 0.56, "c": 0.305, "d": 0.765},
      {"x": 93750, "a": 0.76, "b": 0.49, "c": 0.32, "d": 0.745},
      {"x": 96250, "a": 0.74, "b": 0.59, "c": 0.295, "d": 0.77},
      {"x": 98750, "a": 0.755, "b": 0.44, "c": 0.31, "d": 0.75},
      {"x": 101250, "a": 0.765, "b": 0.54, "c": 0.30, "d": 0.76},
      {"x": 103750, "a": 0.745, "b": 0.57, "c": 0.29, "d": 0.74},
      {"x": 106250, "a": 0.74, "b": 0.45, "c": 0.315, "d": 0.765},
      {"x": 108750, "a": 0.72, "b": 0.50, "c": 0.305, "d": 0.75},
      {"x": 111250, "a": 0.715, "b": 0.59, "c": 0.32, "d": 0.775},
      {"x": 113750, "a": 0.69, "b": 0.43, "c": 0.295, "d": 0.745},
      {"x": 116250, "a": 0.68, "b": 0.55, "c": 0.30, "d": 0.755},
      {"x": 118750, "a": 0.72, "b": 0.48, "c": 0.31, "d": 0.77},
      {"x": 121250, "a": 0.74, "b": 0.58, "c": 0.29, "d": 0.74},
      {"x": 123750, "a": 0.755, "b": 0.44, "c": 0.305, "d": 0.76},
      {"x": 126250, "a": 0.76, "b": 0.52, "c": 0.315, "d": 0.75},
      {"x": 128750, "a": 0.77, "b": 0.56, "c": 0.30, "d": 0.765},
      {"x": 131250, "a": 0.755, "b": 0.43, "c": 0.29, "d": 0.745},
      {"x": 133750, "a": 0.745, "b": 0.49, "c": 0.31, "d": 0.77},
      {"x": 136250, "a": 0.755, "b": 0.58, "c": 0.305, "d": 0.755},
      {"x": 138750, "a": 0.765, "b": 0.42, "c": 0.32, "d": 0.74},
      {"x": 141250, "a": 0.75, "b": 0.54, "c": 0.295, "d": 0.765},
      {"x": 143750, "a": 0.775, "b": 0.46, "c": 0.31, "d": 0.75},
      {"x": 146250, "a": 0.765, "b": 0.55, "c": 0.30, "d": 0.775},
      {"x": 148750, "a": 0.755, "b": 0.41, "c": 0.29, "d": 0.745},
      {"x": 151250, "a": 0.745, "b": 0.50, "c": 0.31, "d": 0.76},
      {"x": 153750, "a": 0.73, "b": 0.45, "c": 0.30, "d": 0.75},
      {"x": 156250, "a": 0.74, "b": 0.53, "c": 0.315, "d": 0.77},
      {"x": 158750, "a": 0.72, "b": 0.42, "c": 0.295, "d": 0.74},
      {"x": 161250, "a": 0.72, "b": 0.48, "c": 0.305, "d": 0.755},
      {"x": 163750, "a": 0.70, "b": 0.52, "c": 0.32, "d": 0.765},
      {"x": 166250, "a": 0.695, "b": 0.40, "c": 0.29, "d": 0.745},
      {"x": 168750, "a": 0.665, "b": 0.47, "c": 0.31, "d": 0.76},
      {"x": 171250, "a": 0.67, "b": 0.44, "c": 0.30, "d": 0.75},
      {"x": 173750, "a": 0.705, "b": 0.51, "c": 0.315, "d": 0.77},
      {"x": 176250, "a": 0.735, "b": 0.43, "c": 0.295, "d": 0.74},
      {"x": 178750, "a": 0.745, "b": 0.49, "c": 0.305, "d": 0.765},
      {"x": 181250, "a": 0.76, "b": 0.46, "c": 0.31, "d": 0.755},
      {"x": 183750, "a": 0.77, "b": 0.41, "c": 0.29, "d": 0.745},
      {"x": 186250, "a": 0.775, "b": 0.52, "c": 0.315, "d": 0.77},
      {"x": 188750, "a": 0.79, "b": 0.44, "c": 0.30, "d": 0.75},
      {"x": 191250, "a": 0.78, "b": 0.48, "c": 0.32, "d": 0.76},
      {"x": 193750, "a": 0.78, "b": 0.40, "c": 0.295, "d": 0.74},
      {"x": 196250, "a": 0.76, "b": 0.50, "c": 0.31, "d": 0.765},
      {"x": 198750, "a": 0.77, "b": 0.45, "c": 0.30, "d": 0.755},
      {"x": 201250, "a": 0.755, "b": 0.42, "c": 0.29, "d": 0.775},
      {"x": 203750, "a": 0.745, "b": 0.47, "c": 0.315, "d": 0.745},
      {"x": 206250, "a": 0.755, "b": 0.50, "c": 0.305, "d": 0.76},
      {"x": 208750, "a": 0.75, "b": 0.43, "c": 0.31, "d": 0.75},
      {"x": 211250, "a": 0.735, "b": 0.46, "c": 0.295, "d": 0.765},
      {"x": 213750, "a": 0.755, "b": 0.40, "c": 0.32, "d": 0.74},
      {"x": 216250, "a": 0.745, "b": 0.49, "c": 0.30, "d": 0.77},
      {"x": 218750, "a": 0.735, "b": 0.44, "c": 0.29, "d": 0.755},
      {"x": 221250, "a": 0.73, "b": 0.41, "c": 0.31, "d": 0.745},
      {"x": 223750, "a": 0.715, "b": 0.48, "c": 0.305, "d": 0.76},
      {"x": 226250, "a": 0.725, "b": 0.45, "c": 0.32, "d": 0.75},
      {"x": 228750, "a": 0.735, "b": 0.40, "c": 0.295, "d": 0.77},
      {"x": 231250, "a": 0.73, "b": 0.47, "c": 0.31, "d": 0.745},
      {"x": 233750, "a": 0.72, "b": 0.43, "c": 0.30, "d": 0.76},
      {"x": 236250, "a": 0.705, "b": 0.50, "c": 0.315, "d": 0.755},
      {"x": 238750, "a": 0.72, "b": 0.42, "c": 0.29, "d": 0.74},
      {"x": 241250, "a": 0.71, "b": 0.46, "c": 0.305, "d": 0.765},
      {"x": 243750, "a": 0.705, "b": 0.39, "c": 0.31, "d": 0.75},
      {"x": 246250, "a": 0.70, "b": 0.44, "c": 0.30, "d": 0.775},
      {"x": 248750, "a": 0.705, "b": 0.48, "c": 0.32, "d": 0.745},
      {"x": 251250, "a": 0.69, "b": 0.41, "c": 0.295, "d": 0.76},
      {"x": 253750, "a": 0.71, "b": 0.46, "c": 0.31, "d": 0.75},
      {"x": 256250, "a": 0.80, "b": 0.43, "c": 0.30, "d": 0.765},
      {"x": 258750, "a": 0.80, "b": 0.40, "c": 0.305, "d": 0.74},
      {"x": 261250, "a": 0.81, "b": 0.47, "c": 0.315, "d": 0.77},
      {"x": 263750, "a": 0.79, "b": 0.42, "c": 0.29, "d": 0.755},
      {"x": 266250, "a": 0.805, "b": 0.45, "c": 0.31, "d": 0.745},
      {"x": 268750, "a": 0.82, "b": 0.39, "c": 0.30, "d": 0.76},
      {"x": 271250, "a": 0.81, "b": 0.44, "c": 0.32, "d": 0.75},
      {"x": 273750, "a": 0.81, "b": 0.41, "c": 0.295, "d": 0.78},
      {"x": 276250, "a": 0.79, "b": 0.46, "c": 0.28, "d": 0.745},
      {"x": 278750, "a": 0.80, "b": 0.40, "c": 0.275, "d": 0.765},
      {"x": 281250, "a": 0.81, "b": 0.43, "c": 0.30, "d": 0.755},
      {"x": 283750, "a": 0.795, "b": 0.45, "c": 0.31, "d": 0.74},
      {"x": 286250, "a": 0.795, "b": 0.39, "c": 0.295, "d": 0.77},
      {"x": 288750, "a": 0.79, "b": 0.44, "c": 0.315, "d": 0.75},
      {"x": 291250, "a": 0.80, "b": 0.41, "c": 0.30, "d": 0.76},
      {"x": 293750, "a": 0.785, "b": 0.47, "c": 0.31, "d": 0.745},
      {"x": 296250, "a": 0.775, "b": 0.40, "c": 0.29, "d": 0.765},
      {"x": 298750, "a": 0.785, "b": 0.43, "c": 0.305, "d": 0.755},
      {"x": 301250, "a": 0.78, "b": 0.45, "c": 0.32, "d": 0.77},
      {"x": 303750, "a": 0.77, "b": 0.39, "c": 0.30, "d": 0.74},
      {"x": 306250, "a": 0.765, "b": 0.42, "c": 0.31, "d": 0.76},
      {"x": 308750, "a": 0.775, "b": 0.46, "c": 0.295, "d": 0.75},
      {"x": 311250, "a": 0.77, "b": 0.40, "c": 0.315, "d": 0.765},
      {"x": 313750, "a": 0.765, "b": 0.44, "c": 0.30, "d": 0.745},
      {"x": 316250, "a": 0.75, "b": 0.38, "c": 0.29, "d": 0.775},
      {"x": 318750, "a": 0.755, "b": 0.43, "c": 0.31, "d": 0.755},
      {"x": 321250, "a": 0.745, "b": 0.41, "c": 0.305, "d": 0.74},
      {"x": 323750, "a": 0.735, "b": 0.45, "c": 0.32, "d": 0.76},
      {"x": 326250, "a": 0.74, "b": 0.40, "c": 0.30, "d": 0.75},
      {"x": 328750, "a": 0.73, "b": 0.44, "c": 0.31, "d": 0.77},
      {"x": 331250, "a": 0.735, "b": 0.39, "c": 0.295, "d": 0.745},
      {"x": 333750, "a": 0.725, "b": 0.42, "c": 0.32, "d": 0.76},
      {"x": 336250, "a": 0.72, "b": 0.46, "c": 0.33, "d": 0.755},
      {"x": 338750, "a": 0.735, "b": 0.38, "c": 0.335, "d": 0.74},
      {"x": 341250, "a": 0.72, "b": 0.43, "c": 0.32, "d": 0.765},
      {"x": 343750, "a": 0.715, "b": 0.41, "c": 0.31, "d": 0.75},
      {"x": 346250, "a": 0.70, "b": 0.45, "c": 0.305, "d": 0.77},
      {"x": 348750, "a": 0.705, "b": 0.39, "c": 0.30, "d": 0.745},
      {"x": 351250, "a": 0.81, "b": 0.44, "c": 0.295, "d": 0.76},
      {"x": 353750, "a": 0.815, "b": 0.40, "c": 0.315, "d": 0.755},
      {"x": 356250, "a": 0.83, "b": 0.42, "c": 0.30, "d": 0.745},
      {"x": 358750, "a": 0.82, "b": 0.46, "c": 0.31, "d": 0.77},
      {"x": 361250, "a": 0.83, "b": 0.39, "c": 0.29, "d": 0.75},
      {"x": 363750, "a": 0.815, "b": 0.43, "c": 0.305, "d": 0.765},
      {"x": 366250, "a": 0.81, "b": 0.41, "c": 0.32, "d": 0.74},
      {"x": 368750, "a": 0.825, "b": 0.38, "c": 0.30, "d": 0.76},
      {"x": 371250, "a": 0.82, "b": 0.45, "c": 0.31, "d": 0.755},
      {"x": 373750, "a": 0.82, "b": 0.40, "c": 0.295, "d": 0.775},
      {"x": 376250, "a": 0.805, "b": 0.42, "c": 0.315, "d": 0.745},
      {"x": 378750, "a": 0.82, "b": 0.44, "c": 0.305, "d": 0.76},
      {"x": 381250, "a": 0.815, "b": 0.39, "c": 0.29, "d": 0.75},
      {"x": 383750, "a": 0.80, "b": 0.43, "c": 0.31, "d": 0.765},
      {"x": 386250, "a": 0.795, "b": 0.40, "c": 0.30, "d": 0.74},
      {"x": 388750, "a": 0.785, "b": 0.46, "c": 0.32, "d": 0.77},
      {"x": 391250, "a": 0.78, "b": 0.38, "c": 0.295, "d": 0.755},
      {"x": 393750, "a": 0.79, "b": 0.42, "c": 0.31, "d": 0.745},
      {"x": 396250, "a": 0.78, "b": 0.44, "c": 0.30, "d": 0.76},
      {"x": 398750, "a": 0.775, "b": 0.40, "c": 0.315, "d": 0.75},
      {"x": 401250, "a": 0.765, "b": 0.43, "c": 0.29, "d": 0.77},
      {"x": 403750, "a": 0.775, "b": 0.39, "c": 0.305, "d": 0.745},
      {"x": 406250, "a": 0.77, "b": 0.45, "c": 0.31, "d": 0.76},
      {"x": 408750, "a": 0.765, "b": 0.41, "c": 0.30, "d": 0.755},
      {"x": 411250, "a": 0.755, "b": 0.40, "c": 0.32, "d": 0.74},
      {"x": 413750, "a": 0.75, "b": 0.44, "c": 0.295, "d": 0.765},
      {"x": 416250, "a": 0.75, "b": 0.38, "c": 0.31, "d": 0.75},
      {"x": 418750, "a": 0.74, "b": 0.42, "c": 0.305, "d": 0.775},
      {"x": 421250, "a": 0.735, "b": 0.46, "c": 0.29, "d": 0.745},
      {"x": 423750, "a": 0.725, "b": 0.40, "c": 0.315, "d": 0.76},
      {"x": 426250, "a": 0.715, "b": 0.41, "c": 0.30, "d": 0.75},
      {"x": 428750, "a": 0.73, "b": 0.44, "c": 0.31, "d": 0.765},
      {"x": 431250, "a": 0.72, "b": 0.39, "c": 0.295, "d": 0.74},
      {"x": 433750, "a": 0.715, "b": 0.43, "c": 0.32, "d": 0.77},
      {"x": 436250, "a": 0.705, "b": 0.40, "c": 0.305, "d": 0.755},
      {"x": 438750, "a": 0.715, "b": 0.45, "c": 0.29, "d": 0.745},
      {"x": 441250, "a": 0.71, "b": 0.38, "c": 0.31, "d": 0.76},
      {"x": 443750, "a": 0.715, "b": 0.42, "c": 0.30, "d": 0.75},
      {"x": 446250, "a": 0.705, "b": 0.41, "c": 0.315, "d": 0.77},
      {"x": 448750, "a": 0.72, "b": 0.44, "c": 0.295, "d": 0.745},
      {"x": 451250, "a": 0.83, "b": 0.39, "c": 0.31, "d": 0.76},
      {"x": 453750, "a": 0.825, "b": 0.43, "c": 0.30, "d": 0.755},
      {"x": 456250, "a": 0.84, "b": 0.40, "c": 0.32, "d": 0.765},
      {"x": 458750, "a": 0.83, "b": 0.46, "c": 0.295, "d": 0.74},
      {"x": 461250, "a": 0.845, "b": 0.38, "c": 0.305, "d": 0.77},
      {"x": 463750, "a": 0.835, "b": 0.42, "c": 0.31, "d": 0.75},
      {"x": 466250, "a": 0.825, "b": 0.44, "c": 0.29, "d": 0.76},
      {"x": 468750, "a": 0.835, "b": 0.40, "c": 0.315, "d": 0.745},
      {"x": 471250, "a": 0.825, "b": 0.41, "c": 0.30, "d": 0.765},
      {"x": 473750, "a": 0.815, "b": 0.45, "c": 0.31, "d": 0.755},
      {"x": 476250, "a": 0.83, "b": 0.38, "c": 0.295, "d": 0.77},
      {"x": 478750, "a": 0.825, "b": 0.43, "c": 0.32, "d": 0.74},
      {"x": 481250, "a": 0.825, "b": 0.41, "c": 0.305, "d": 0.76},
      {"x": 483750, "a": 0.815, "b": 0.40, "c": 0.30, "d": 0.75},
      {"x": 486250, "a": 0.81, "b": 0.44, "c": 0.31, "d": 0.765},
      {"x": 488750, "a": 0.81, "b": 0.39, "c": 0.29, "d": 0.745},
      {"x": 491250, "a": 0.815, "b": 0.42, "c": 0.315, "d": 0.775},
      {"x": 493750, "a": 0.805, "b": 0.45, "c": 0.30, "d": 0.755},
      {"x": 496250, "a": 0.795, "b": 0.38, "c": 0.31, "d": 0.74},
      {"x": 498750, "a": 0.805, "b": 0.41, "c": 0.295, "d": 0.76},
      {"x": 501250, "a": 0.80, "b": 0.44, "c": 0.305, "d": 0.75},
      {"x": 503750, "a": 0.795, "b": 0.40, "c": 0.32, "d": 0.77},
      {"x": 506250, "a": 0.785, "b": 0.42, "c": 0.30, "d": 0.745},
      {"x": 508750, "a": 0.795, "b": 0.39, "c": 0.31, "d": 0.76},
      {"x": 511250, "a": 0.79, "b": 0.45, "c": 0.295, "d": 0.74},
      {"x": 513750, "a": 0.785, "b": 0.41, "c": 0.315, "d": 0.73},
      {"x": 516250, "a": 0.775, "b": 0.38, "c": 0.29, "d": 0.755},
      {"x": 518750, "a": 0.785, "b": 0.43, "c": 0.305, "d": 0.765},
      {"x": 521250, "a": 0.78, "b": 0.40, "c": 0.31, "d": 0.745},
      {"x": 523750, "a": 0.77, "b": 0.44, "c": 0.30, "d": 0.77},
      {"x": 526250, "a": 0.765, "b": 0.39, "c": 0.32, "d": 0.75},
      {"x": 528750, "a": 0.775, "b": 0.42, "c": 0.295, "d": 0.76},
      {"x": 531250, "a": 0.77, "b": 0.41, "c": 0.31, "d": 0.74},
      {"x": 533750, "a": 0.76, "b": 0.45, "c": 0.30, "d": 0.765},
      {"x": 536250, "a": 0.76, "b": 0.38, "c": 0.315, "d": 0.755},
      {"x": 538750, "a": 0.755, "b": 0.43, "c": 0.29, "d": 0.77},
      {"x": 541250, "a": 0.76, "b": 0.40, "c": 0.305, "d": 0.745},
      {"x": 543750, "a": 0.745, "b": 0.42, "c": 0.31, "d": 0.76},
      {"x": 546250, "a": 0.74, "b": 0.44, "c": 0.30, "d": 0.75},
      {"x": 548750, "a": 0.73, "b": 0.39, "c": 0.32, "d": 0.765},
      {"x": 551250, "a": 0.73, "b": 0.41, "c": 0.295, "d": 0.74},
      {"x": 553750, "a": 0.72, "b": 0.45, "c": 0.31, "d": 0.77},
      {"x": 556250, "a": 0.715, "b": 0.38, "c": 0.305, "d": 0.755},
      {"x": 558750, "a": 0.71, "b": 0.42, "c": 0.29, "d": 0.745},
      {"x": 561250, "a": 0.705, "b": 0.40, "c": 0.315, "d": 0.76},
      {"x": 563750, "a": 0.695, "b": 0.44, "c": 0.30, "d": 0.75},
      {"x": 566250, "a": 0.70, "b": 0.39, "c": 0.31, "d": 0.775},
      {"x": 568750, "a": 0.705, "b": 0.43, "c": 0.295, "d": 0.745},
      {"x": 571250, "a": 0.79, "b": 0.41, "c": 0.32, "d": 0.76},
      {"x": 573750, "a": 0.825, "b": 0.40, "c": 0.30, "d": 0.755},
      {"x": 576250, "a": 0.82, "b": 0.44, "c": 0.31, "d": 0.77},
      {"x": 578750, "a": 0.815, "b": 0.38, "c": 0.295, "d": 0.74},
      {"x": 581250, "a": 0.83, "b": 0.42, "c": 0.315, "d": 0.765},
      {"x": 583750, "a": 0.815, "b": 0.41, "c": 0.30, "d": 0.75},
      {"x": 586250, "a": 0.805, "b": 0.45, "c": 0.29, "d": 0.76},
      {"x": 588750, "a": 0.82, "b": 0.39, "c": 0.31, "d": 0.745},
      {"x": 591250, "a": 0.81, "b": 0.40, "c": 0.305, "d": 0.77},
      {"x": 593750, "a": 0.81, "b": 0.43, "c": 0.32, "d": 0.755},
      {"x": 596250, "a": 0.795, "b": 0.38, "c": 0.295, "d": 0.74},
      {"x": 598750, "a": 0.80, "b": 0.42, "c": 0.31, "d": 0.765},
      {"x": 601250, "a": 0.805, "b": 0.41, "c": 0.30, "d": 0.75},
      {"x": 603750, "a": 0.79, "b": 0.44, "c": 0.315, "d": 0.775},
      {"x": 606250, "a": 0.80, "b": 0.39, "c": 0.29, "d": 0.745},
      {"x": 608750, "a": 0.81, "b": 0.40, "c": 0.305, "d": 0.76},
      {"x": 611250, "a": 0.80, "b": 0.43, "c": 0.31, "d": 0.755},
      {"x": 613750, "a": 0.79, "b": 0.38, "c": 0.30, "d": 0.74},
      {"x": 616250, "a": 0.79, "b": 0.42, "c": 0.32, "d": 0.765},
      {"x": 618750, "a": 0.79, "b": 0.45, "c": 0.295, "d": 0.75},
      {"x": 621250, "a": 0.795, "b": 0.40, "c": 0.31, "d": 0.77},
      {"x": 623750, "a": 0.78, "b": 0.41, "c": 0.30, "d": 0.745},
      {"x": 626250, "a": 0.785, "b": 0.43, "c": 0.29, "d": 0.76},
      {"x": 628750, "a": 0.78, "b": 0.39, "c": 0.315, "d": 0.75},
      {"x": 631250, "a": 0.79, "b": 0.41, "c": 0.305, "d": 0.765},
      {"x": 633750, "a": 0.775, "b": 0.44, "c": 0.31, "d": 0.74},
      {"x": 636250, "a": 0.775, "b": 0.38, "c": 0.295, "d": 0.77},
      {"x": 638750, "a": 0.76, "b": 0.42, "c": 0.32, "d": 0.755},
      {"x": 641250, "a": 0.77, "b": 0.40, "c": 0.30, "d": 0.745},
      {"x": 643750, "a": 0.77, "b": 0.43, "c": 0.31, "d": 0.76},
      {"x": 646250, "a": 0.765, "b": 0.39, "c": 0.29, "d": 0.75},
      {"x": 648750, "a": 0.755, "b": 0.45, "c": 0.305, "d": 0.775},
      {"x": 651250, "a": 0.745, "b": 0.40, "c": 0.315, "d": 0.745},
      {"x": 653750, "a": 0.735, "b": 0.42, "c": 0.30, "d": 0.76},
      {"x": 656250, "a": 0.725, "b": 0.38, "c": 0.31, "d": 0.755},
      {"x": 658750, "a": 0.72, "b": 0.44, "c": 0.295, "d": 0.74},
      {"x": 661250, "a": 0.71, "b": 0.41, "c": 0.32, "d": 0.765},
      {"x": 663750, "a": 0.70, "b": 0.39, "c": 0.305, "d": 0.75},
      {"x": 666250, "a": 0.70, "b": 0.43, "c": 0.29, "d": 0.77},
      {"x": 668750, "a": 0.705, "b": 0.40, "c": 0.31, "d": 0.745},
      {"x": 671250, "a": 0.79, "b": 0.42, "c": 0.30, "d": 0.76},
      {"x": 673750, "a": 0.835, "b": 0.45, "c": 0.315, "d": 0.755},
      {"x": 676250, "a": 0.845, "b": 0.38, "c": 0.295, "d": 0.765},
      {"x": 678750, "a": 0.845, "b": 0.41, "c": 0.31, "d": 0.74},
      {"x": 681250, "a": 0.85, "b": 0.44, "c": 0.30, "d": 0.77},
      {"x": 683750, "a": 0.835, "b": 0.40, "c": 0.32, "d": 0.75},
      {"x": 686250, "a": 0.845, "b": 0.42, "c": 0.305, "d": 0.76},
      {"x": 688750, "a": 0.84, "b": 0.39, "c": 0.29, "d": 0.745},
      {"x": 691250, "a": 0.85, "b": 0.43, "c": 0.31, "d": 0.765},
      {"x": 693750, "a": 0.84, "b": 0.41, "c": 0.30, "d": 0.755},
      {"x": 696250, "a": 0.845, "b": 0.38, "c": 0.315, "d": 0.74},
      {"x": 698750, "a": 0.85, "b": 0.44, "c": 0.295, "d": 0.77},
      {"x": 701250, "a": 0.835, "b": 0.40, "c": 0.31, "d": 0.73},
      {"x": 703750, "a": 0.83, "b": 0.42, "c": 0.305, "d": 0.725},
      {"x": 706250, "a": 0.83, "b": 0.45, "c": 0.32, "d": 0.75},
      {"x": 708750, "a": 0.82, "b": 0.39, "c": 0.295, "d": 0.765},
      {"x": 711250, "a": 0.82, "b": 0.41, "c": 0.31, "d": 0.745},
      {"x": 713750, "a": 0.825, "b": 0.43, "c": 0.30, "d": 0.77},
      {"x": 716250, "a": 0.815, "b": 0.38, "c": 0.29, "d": 0.755},
      {"x": 718750, "a": 0.81, "b": 0.42, "c": 0.315, "d": 0.74},
      {"x": 721250, "a": 0.805, "b": 0.40, "c": 0.30, "d": 0.76},
      {"x": 723750, "a": 0.80, "b": 0.44, "c": 0.31, "d": 0.75},
      {"x": 726250, "a": 0.80, "b": 0.39, "c": 0.295, "d": 0.765},
      {"x": 728750, "a": 0.795, "b": 0.41, "c": 0.32, "d": 0.745},
      {"x": 731250, "a": 0.79, "b": 0.43, "c": 0.305, "d": 0.775},
      {"x": 733750, "a": 0.785, "b": 0.38, "c": 0.30, "d": 0.75},
      {"x": 736250, "a": 0.775, "b": 0.45, "c": 0.31, "d": 0.76},
      {"x": 738750, "a": 0.78, "b": 0.40, "c": 0.29, "d": 0.74},
      {"x": 741250, "a": 0.77, "b": 0.42, "c": 0.315, "d": 0.765},
      {"x": 743750, "a": 0.76, "b": 0.39, "c": 0.30, "d": 0.755},
      {"x": 746250, "a": 0.755, "b": 0.44, "c": 0.31, "d": 0.77},
      {"x": 748750, "a": 0.74, "b": 0.41, "c": 0.295, "d": 0.745},
      {"x": 751250, "a": 0.73, "b": 0.38, "c": 0.32, "d": 0.76},
      {"x": 753750, "a": 0.72, "b": 0.43, "c": 0.30, "d": 0.75},
      {"x": 756250, "a": 0.715, "b": 0.40, "c": 0.31, "d": 0.74},
      {"x": 758750, "a": 0.705, "b": 0.42, "c": 0.295, "d": 0.765},
      {"x": 761250, "a": 0.695, "b": 0.45, "c": 0.305, "d": 0.755},
      {"x": 763750, "a": 0.685, "b": 0.39, "c": 0.315, "d": 0.775},
      {"x": 766250, "a": 0.79, "b": 0.41, "c": 0.29, "d": 0.745},
      {"x": 768750, "a": 0.82, "b": 0.44, "c": 0.31, "d": 0.76},
      {"x": 771250, "a": 0.83, "b": 0.38, "c": 0.30, "d": 0.75},
      {"x": 773750, "a": 0.82, "b": 0.42, "c": 0.32, "d": 0.77},
      {"x": 776250, "a": 0.825, "b": 0.40, "c": 0.295, "d": 0.745},
      {"x": 778750, "a": 0.82, "b": 0.43, "c": 0.31, "d": 0.76},
      {"x": 781250, "a": 0.825, "b": 0.39, "c": 0.305, "d": 0.755},
      {"x": 783750, "a": 0.815, "b": 0.41, "c": 0.29, "d": 0.74},
      {"x": 786250, "a": 0.82, "b": 0.45, "c": 0.315, "d": 0.77},
      {"x": 788750, "a": 0.825, "b": 0.38, "c": 0.30, "d": 0.75},
      {"x": 791250, "a": 0.815, "b": 0.42, "c": 0.31, "d": 0.765},
      {"x": 793750, "a": 0.81, "b": 0.40, "c": 0.295, "d": 0.745},
      {"x": 796250, "a": 0.80, "b": 0.44, "c": 0.32, "d": 0.76},
      {"x": 798750, "a": 0.80, "b": 0.39, "c": 0.30, "d": 0.755},
      {"x": 801250, "a": 0.815, "b": 0.41, "c": 0.31, "d": 0.775},
      {"x": 803750, "a": 0.81, "b": 0.43, "c": 0.29, "d": 0.745},
      {"x": 806250, "a": 0.81, "b": 0.38, "c": 0.305, "d": 0.76},
      {"x": 808750, "a": 0.80, "b": 0.42, "c": 0.315, "d": 0.75},
      {"x": 811250, "a": 0.795, "b": 0.40, "c": 0.30, "d": 0.765},
      {"x": 813750, "a": 0.79, "b": 0.45, "c": 0.31, "d": 0.74},
      {"x": 816250, "a": 0.785, "b": 0.39, "c": 0.295, "d": 0.77},
      {"x": 818750, "a": 0.795, "b": 0.41, "c": 0.32, "d": 0.755},
      {"x": 821250, "a": 0.785, "b": 0.43, "c": 0.305, "d": 0.745},
      {"x": 823750, "a": 0.78, "b": 0.38, "c": 0.29, "d": 0.76},
      {"x": 826250, "a": 0.775, "b": 0.42, "c": 0.31, "d": 0.75},
      {"x": 828750, "a": 0.77, "b": 0.40, "c": 0.30, "d": 0.77},
      {"x": 831250, "a": 0.775, "b": 0.44, "c": 0.315, "d": 0.745},
      {"x": 833750, "a": 0.785, "b": 0.39, "c": 0.295, "d": 0.765},
      {"x": 836250, "a": 0.775, "b": 0.41, "c": 0.31, "d": 0.755},
      {"x": 838750, "a": 0.765, "b": 0.43, "c": 0.30, "d": 0.74},
      {"x": 841250, "a": 0.76, "b": 0.38, "c": 0.32, "d": 0.76},
      {"x": 843750, "a": 0.75, "b": 0.42, "c": 0.295, "d": 0.75},
      {"x": 846250, "a": 0.745, "b": 0.40, "c": 0.305, "d": 0.775},
      {"x": 848750, "a": 0.735, "b": 0.45, "c": 0.31, "d": 0.745},
      {"x": 851250, "a": 0.73, "b": 0.39, "c": 0.29, "d": 0.76},
      {"x": 853750, "a": 0.72, "b": 0.41, "c": 0.315, "d": 0.755},
      {"x": 856250, "a": 0.715, "b": 0.43, "c": 0.30, "d": 0.745},
      {"x": 858750, "a": 0.705, "b": 0.38, "c": 0.31, "d": 0.77},
      {"x": 861250, "a": 0.70, "b": 0.42, "c": 0.295, "d": 0.75},
      {"x": 863750, "a": 0.71, "b": 0.44, "c": 0.32, "d": 0.765},
      {"x": 866250, "a": 0.79, "b": 0.40, "c": 0.305, "d": 0.74},
      {"x": 868750, "a": 0.84, "b": 0.39, "c": 0.30, "d": 0.76},
      {"x": 871250, "a": 0.845, "b": 0.43, "c": 0.31, "d": 0.755},
      {"x": 873750, "a": 0.85, "b": 0.41, "c": 0.29, "d": 0.77},
      {"x": 876250, "a": 0.845, "b": 0.45, "c": 0.315, "d": 0.745},
      {"x": 878750, "a": 0.855, "b": 0.38, "c": 0.30, "d": 0.76},
      {"x": 881250, "a": 0.86, "b": 0.42, "c": 0.31, "d": 0.75},
      {"x": 883750, "a": 0.865, "b": 0.40, "c": 0.295, "d": 0.765},
      {"x": 886250, "a": 0.855, "b": 0.44, "c": 0.32, "d": 0.74},
      {"x": 888750, "a": 0.85, "b": 0.39, "c": 0.305, "d": 0.775},
      {"x": 891250, "a": 0.855, "b": 0.41, "c": 0.29, "d": 0.755},
      {"x": 893750, "a": 0.845, "b": 0.43, "c": 0.31, "d": 0.745},
      {"x": 896250, "a": 0.845, "b": 0.38, "c": 0.30, "d": 0.76},
      {"x": 898750, "a": 0.84, "b": 0.42, "c": 0.315, "d": 0.75},
      {"x": 901250, "a": 0.85, "b": 0.40, "c": 0.295, "d": 0.77},
      {"x": 903750, "a": 0.84, "b": 0.44, "c": 0.31, "d": 0.745},
      {"x": 906250, "a": 0.835, "b": 0.39, "c": 0.30, "d": 0.76},
      {"x": 908750, "a": 0.83, "b": 0.41, "c": 0.32, "d": 0.755},
      {"x": 911250, "a": 0.83, "b": 0.43, "c": 0.305, "d": 0.74},
      {"x": 913750, "a": 0.825, "b": 0.38, "c": 0.29, "d": 0.765},
      {"x": 916250, "a": 0.825, "b": 0.42, "c": 0.31, "d": 0.75},
      {"x": 918750, "a": 0.82, "b": 0.45, "c": 0.30, "d": 0.775},
      {"x": 921250, "a": 0.81, "b": 0.40, "c": 0.315, "d": 0.745},
      {"x": 923750, "a": 0.795, "b": 0.39, "c": 0.295, "d": 0.76},
      {"x": 926250, "a": 0.79, "b": 0.43, "c": 0.31, "d": 0.75},
      {"x": 928750, "a": 0.79, "b": 0.41, "c": 0.305, "d": 0.765},
      {"x": 931250, "a": 0.795, "b": 0.38, "c": 0.32, "d": 0.74},
      {"x": 933750, "a": 0.785, "b": 0.44, "c": 0.295, "d": 0.77},
      {"x": 936250, "a": 0.79, "b": 0.40, "c": 0.31, "d": 0.755},
      {"x": 938750, "a": 0.78, "b": 0.42, "c": 0.30, "d": 0.745},
      {"x": 941250, "a": 0.775, "b": 0.39, "c": 0.29, "d": 0.76},
      {"x": 943750, "a": 0.77, "b": 0.43, "c": 0.315, "d": 0.75},
      {"x": 946250, "a": 0.77, "b": 0.41, "c": 0.30, "d": 0.77},
      {"x": 948750, "a": 0.76, "b": 0.38, "c": 0.31, "d": 0.745},
      {"x": 951250, "a": 0.755, "b": 0.44, "c": 0.295, "d": 0.765},
      {"x": 953750, "a": 0.74, "b": 0.40, "c": 0.32, "d": 0.755},
      {"x": 956250, "a": 0.73, "b": 0.42, "c": 0.305, "d": 0.76},
      {"x": 958750, "a": 0.72, "b": 0.39, "c": 0.30, "d": 0.74},
      {"x": 961250, "a": 0.71, "b": 0.45, "c": 0.31, "d": 0.775},
      {"x": 963750, "a": 0.695, "b": 0.41, "c": 0.29, "d": 0.75},
      {"x": 966250, "a": 0.70, "b": 0.38, "c": 0.315, "d": 0.765},
      {"x": 968750, "a": 0.80, "b": 0.43, "c": 0.30, "d": 0.745},
      {"x": 971250, "a": 0.815, "b": 0.40, "c": 0.31, "d": 0.76},
      {"x": 973750, "a": 0.825, "b": 0.42, "c": 0.295, "d": 0.755},
      {"x": 976250, "a": 0.82, "b": 0.39, "c": 0.32, "d": 0.77},
      {"x": 978750, "a": 0.81, "b": 0.44, "c": 0.30, "d": 0.745},
      {"x": 981250, "a": 0.80, "b": 0.41, "c": 0.305, "d": 0.76},
      {"x": 983750, "a": 0.815, "b": 0.38, "c": 0.31, "d": 0.75},
      {"x": 986250, "a": 0.81, "b": 0.43, "c": 0.295, "d": 0.765},
      {"x": 988750, "a": 0.80, "b": 0.40, "c": 0.315, "d": 0.74},
      {"x": 991250, "a": 0.795, "b": 0.42, "c": 0.30, "d": 0.775},
      {"x": 993750, "a": 0.80, "b": 0.39, "c": 0.31, "d": 0.75},
      {"x": 996250, "a": 0.80, "b": 0.45, "c": 0.32, "d": 0.765},
      {"x": 998750, "a": 0.795, "b": 0.48, "c": 0.315, "d": 0.755}
    ]
  },
  "transform": [
    {"fold": ["a", "b", "c", "d"], "as": ["serie", "precision"]}
  ],
  "mark": {"type": "line", "strokeWidth": 3.2, "clip": true},
  "encoding": {
    "x": {
      "field": "x",
      "type": "quantitative",
      "scale": {"domain": [-50000, 1050000], "nice": false, "zero": false},
      "axis": {
        "values": [0, 200000, 400000, 600000, 800000, 1000000],
        "format": "d",
        "domain": false,
        "grid": false,
        "ticks": true,
        "tickColor": "black",
        "tickSize": 8,
        "tickWidth": 1.8,
        "labelFont": "DejaVu Sans",
        "labelFontSize": 24,
        "labelColor": "black",
        "labelPadding": 11,
        "labelFlush": false,
        "title": "Numero de ejemplos",
        "titleFont": "DejaVu Sans",
        "titleFontSize": 24,
        "titleFontWeight": "normal",
        "titleColor": "black",
        "titlePadding": 8
      }
    },
    "y": {
      "field": "precision",
      "type": "quantitative",
      "scale": {"domain": [0, 1], "nice": false, "zero": false},
      "axis": {
        "values": [0, 0.2, 0.4, 0.6, 0.8, 1.0],
        "format": ".1f",
        "domain": false,
        "grid": false,
        "tickColor": "black",
        "tickSize": 8,
        "tickWidth": 1.8,
        "labelFont": "DejaVu Sans",
        "labelFontSize": 24,
        "labelColor": "black",
        "labelPadding": 8,
        "labelFlush": false,
        "title": "Precisión",
        "titleFont": "DejaVu Sans",
        "titleFontSize": 24,
        "titleFontWeight": "normal",
        "titleColor": "black",
        "titlePadding": 17
      }
    },
    "color": {
      "field": "serie",
      "type": "nominal",
      "scale": {
        "domain": ["a", "b", "c", "d"],
        "range": ["#1f77b4", "#ff7f0e", "#2ca02c", "#d62728"]
      },
      "legend": {
        "orient": "bottom-right",
        "offset": 11,
        "title": null,
        "labelExpr": "{'a': 'deriva=0.00001', 'b': 'deriva=0.001', 'c': 'deriva=0.1', 'd': 'deriva=0'}[datum.label]",
        "labelFont": "DejaVu Sans",
        "labelFontSize": 25,
        "labelColor": "black",
        "labelLimit": 400,
        "symbolType": "M-2,0H2",
        "symbolSize": 784,
        "symbolStrokeWidth": 3.2,
        "symbolOffset": 13,
        "labelOffset": 30,
        "rowPadding": 8,
        "padding": 9,
        "strokeColor": "#cccccc",
        "fillColor": "white",
        "cornerRadius": 4
      }
    }
  }
}
